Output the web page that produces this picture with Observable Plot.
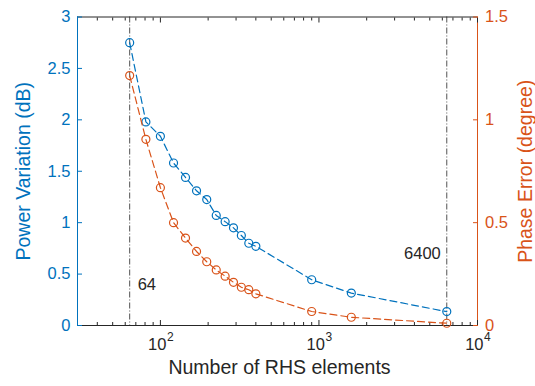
<!DOCTYPE html>
<html><head><meta charset="utf-8">
<script src="https://cdn.jsdelivr.net/npm/d3@7"></script>
<script src="https://cdn.jsdelivr.net/npm/@observablehq/plot@0.6"></script>
<style>body{margin:0;background:#fff;}</style>
</head><body><div id="chart"></div>
<script>
const rhsElements = [64, 81, 100, 121, 144, 169, 196, 225, 256, 289, 324, 361, 400, 900, 1600, 6400];
const powerVariation = [2.75, 1.98, 1.84, 1.58, 1.44, 1.31, 1.225, 1.07, 1.01, 0.95, 0.875, 0.80, 0.77, 0.445, 0.315, 0.135];
const phaseError = [1.215, 0.905, 0.67, 0.50, 0.425, 0.36, 0.31, 0.27, 0.24, 0.21, 0.186, 0.174, 0.154, 0.068, 0.04, 0.011];
const markerLines = [64, 6400];
const markerLabels = ["64", "6400"];
const markerLabelY = [0.40, 0.70];
const leftTicks = [0, 0.5, 1, 1.5, 2, 2.5, 3];
const rightTicks = [0, 0.5, 1, 1.5];
const xMajor = [100, 1000, 10000];
const xMajorExp = ["2", "3", "4"];
const xMinor = [40, 50, 60, 70, 80, 90, 200, 300, 400, 500, 600, 700, 800, 900, 2000, 3000, 4000, 5000, 6000, 7000, 8000, 9000];
const xDomain = [30, 10000];
const yLeftDomain = [0, 3];
const yRightMax = 1.5;

const blue = "#0072BD", orange = "#D95319", ink = "#262626";
const ratio = yLeftDomain[1] / yRightMax;
const rows = rhsElements.map((x, i) => ({x, power: powerVariation[i], phase: phaseError[i] * ratio}));
const font = "'Liberation Sans', Arial, Helvetica, sans-serif";

const chart = Plot.plot({
  width: 535, height: 386,
  marginLeft: 77, marginRight: 58, marginTop: 16.5, marginBottom: 61,
  style: {fontFamily: font, fontSize: "16.5px", background: "white"},
  x: {type: "log", domain: xDomain},
  y: {domain: yLeftDomain},
  marks: [
    // frame
    Plot.ruleY([yLeftDomain[1]], {stroke: ink, strokeWidth: 1}),
    Plot.ruleY([0], {stroke: ink, strokeWidth: 1}),
    Plot.ruleX([xDomain[0]], {stroke: blue, strokeWidth: 1}),
    Plot.ruleX([xDomain[1]], {stroke: orange, strokeWidth: 1}),
    // x ticks
    Plot.axisX({anchor: "bottom", ticks: xMajor, tickSize: -5, tickFormat: () => "", label: null, color: ink}),
    Plot.axisX({anchor: "bottom", ticks: xMinor, tickSize: -3, tickFormat: () => "", label: null, color: ink}),
    Plot.axisX({anchor: "top", ticks: xMajor, tickSize: -5, tickFormat: () => "", label: null, color: ink}),
    Plot.axisX({anchor: "top", ticks: xMinor, tickSize: -3, tickFormat: () => "", label: null, color: ink}),
    Plot.text(xMajor, {x: d => d, frameAnchor: "bottom", text: () => "10", textAnchor: "end", dx: 6, dy: 24.5, fill: ink, fontSize: 16.5}),
    Plot.text(xMajor, {x: d => d, frameAnchor: "bottom", text: (d, i) => xMajorExp[i], textAnchor: "start", dx: 6.5, dy: 15, fill: ink, fontSize: 12}),
    // y axes
    Plot.axisY({anchor: "left", ticks: leftTicks, tickSize: -5, tickPadding: 12, tickFormat: d => String(d), label: null, color: blue, fontSize: 16.5}),
    Plot.axisY({anchor: "right", ticks: rightTicks.map(d => d * ratio), tickSize: -5, tickPadding: 12.5, tickFormat: d => String(d / ratio), label: null, color: orange, fontSize: 16.5}),
    // axis titles
    Plot.text(["Power Variation (dB)"], {frameAnchor: "left", textAnchor: "middle", rotate: -90, dx: -54, fill: blue, fontSize: 19.5}),
    Plot.text(["Phase Error (degree)"], {frameAnchor: "right", textAnchor: "middle", rotate: -90, dx: 48, fill: orange, fontSize: 19.5}),
    Plot.text(["Number of RHS elements"], {frameAnchor: "bottom", textAnchor: "middle", dy: 48, dx: 2, fill: ink, fontSize: 19.5}),
    // reference lines
    Plot.ruleX(markerLines, {stroke: ink, strokeWidth: 0.8, strokeDasharray: "6,2,1,2"}),
    Plot.text([markerLines[0]], {x: d => d, y: () => markerLabelY[0], text: () => markerLabels[0], textAnchor: "start", dx: 8, fill: ink, fontSize: 16.5}),
    Plot.text([markerLines[1]], {x: d => d, y: () => markerLabelY[1], text: () => markerLabels[1], textAnchor: "end", dx: -6, fill: ink, fontSize: 16.5}),
    // series
    Plot.line(rows, {x: "x", y: "power", stroke: blue, strokeWidth: 1.2, strokeDasharray: "7,4"}),
    Plot.dot(rows, {x: "x", y: "power", r: 4, stroke: blue, strokeWidth: 1.2, fill: "none"}),
    Plot.line(rows, {x: "x", y: "phase", stroke: orange, strokeWidth: 1.2, strokeDasharray: "7,4"}),
    Plot.dot(rows, {x: "x", y: "phase", r: 4, stroke: orange, strokeWidth: 1.2, fill: "none"})
  ]
});
document.getElementById("chart").appendChild(chart);
</script>
</body></html>
